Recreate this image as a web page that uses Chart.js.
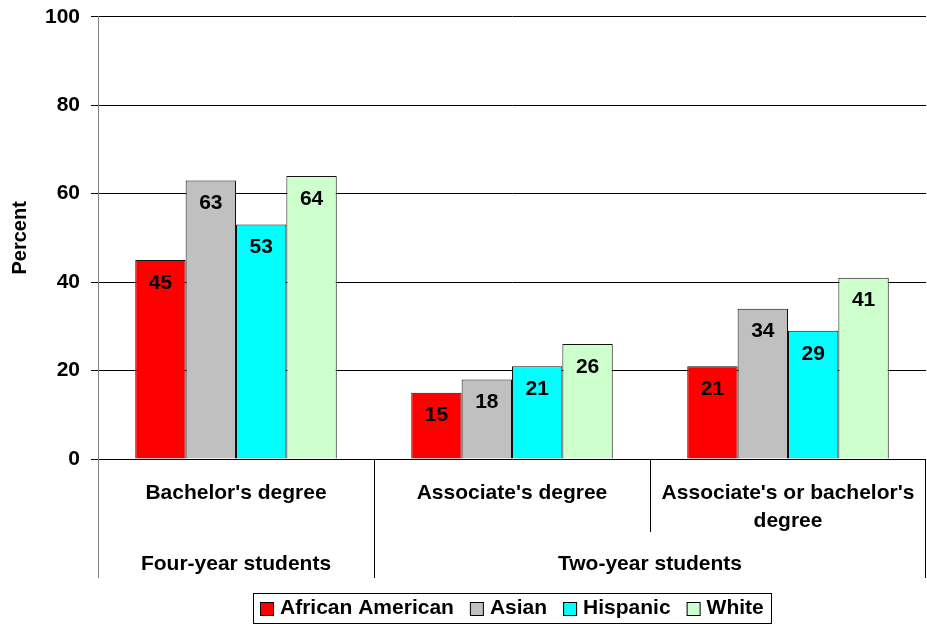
<!DOCTYPE html>
<html>
<head>
<meta charset="utf-8">
<script src="https://cdn.jsdelivr.net/npm/chart.js@4/dist/chart.umd.min.js"></script>
<style>
  html, body { margin: 0; padding: 0; background: #fff; }
  #wrap { width: 927px; height: 624px; position: relative; }
</style>
</head>
<body>
<div id="wrap"><canvas id="gradChart"></canvas></div>
<script>
// categories (each one is split into its drawn lines)
const categories = [["Bachelor's degree"], ["Associate's degree"], ["Associate's or bachelor's", "degree"]];
const groupLabels = ['Four-year students', 'Two-year students'];
const groupFirst = [0, 1];
const groupLast = [0, 2];

const africanAmerican = [45, 15, 21];
const asian = [63, 18, 34];
const hispanic = [53, 21, 29];
const white = [64, 26, 41];

const yTicks = [0, 20, 40, 60, 80, 100];

const FONT = 'Arial, "Liberation Sans", sans-serif';

// value labels inside the top of each bar
const valueLabels = {
    id: 'valueLabels',
    afterDatasetsDraw(chart) {
        const ctx = chart.ctx;
        ctx.save();
        ctx.font = 'bold 21px ' + FONT;
        ctx.fillStyle = '#000';
        ctx.textAlign = 'center';
        ctx.textBaseline = 'middle';
        chart.data.datasets.forEach(function(ds, i) {
            chart.getDatasetMeta(i).data.forEach(function(bar, j) {
                ctx.fillText(String(ds.data[j]), bar.x, bar.y + 23);
            });
        });
        ctx.restore();
    }
};

// two-level category axis, separators and the boxed legend
const axisLabels = {
    id: 'axisLabels',
    afterDraw(chart) {
        const ctx = chart.ctx;
        const x = chart.scales.x;
        const area = chart.chartArea;
        const bottom = area.bottom;
        const edge = function(i) {
            if (i <= 0) return area.left;
            if (i >= categories.length) return area.right;
            return (x.getPixelForValue(i - 1) + x.getPixelForValue(i)) / 2;
        };
        ctx.save();
        ctx.lineWidth = 1;

        // separators
        ctx.strokeStyle = '#808080';
        ctx.beginPath();
        ctx.moveTo(Math.round(area.left) + 0.5, bottom);
        ctx.lineTo(Math.round(area.left) + 0.5, bottom + 119);
        ctx.stroke();
        ctx.strokeStyle = '#000';
        for (let i = 1; i <= categories.length; i++) {
            const isGroupEdge = groupFirst.indexOf(i) >= 0 || i === categories.length;
            const px = Math.round(edge(i)) - (i === categories.length ? 1 : 0) + 0.5;
            ctx.beginPath();
            ctx.moveTo(px, bottom);
            ctx.lineTo(px, bottom + (isGroupEdge ? 119 : 73));
            ctx.stroke();
        }

        // category labels
        ctx.fillStyle = '#000';
        ctx.font = 'bold 21px ' + FONT;
        ctx.textAlign = 'center';
        ctx.textBaseline = 'middle';
        categories.forEach(function(lines, i) {
            const cx = x.getPixelForValue(i);
            lines.forEach(function(t, k) {
                ctx.fillText(t, cx, bottom + 34 + k * 28);
            });
        });

        // group labels
        groupLabels.forEach(function(t, g) {
            const cx = (edge(groupFirst[g]) + edge(groupLast[g] + 1)) / 2;
            ctx.fillText(t, cx, bottom + 105);
        });

        // legend
        const sw = 14, gapText = 6, gapItem = 16, margin = 7;
        ctx.font = 'bold 21px ' + FONT;
        const items = chart.data.datasets.map(function(ds) {
            return { ds: ds, w: sw + gapText + ctx.measureText(ds.label).width };
        });
        let total = margin * 2 + gapItem * (items.length - 1);
        items.forEach(function(it) { total += it.w; });
        const boxL = Math.round((area.left + area.right) / 2 - total / 2);
        const boxT = chart.height - 31;
        ctx.strokeStyle = '#000';
        ctx.strokeRect(boxL + 0.5, boxT + 0.5, Math.round(total), 30);
        const cy = boxT + 15.5;
        let lx = boxL + margin;
        ctx.textAlign = 'left';
        items.forEach(function(it) {
            ctx.fillStyle = it.ds.backgroundColor;
            ctx.fillRect(lx, Math.round(cy - sw / 2), sw, sw);
            ctx.strokeStyle = '#000';
            ctx.strokeRect(lx + 0.5, Math.round(cy - sw / 2) + 0.5, sw - 1, sw - 1);
            ctx.fillStyle = '#000';
            ctx.fillText(it.ds.label, lx + sw + gapText, cy);
            lx += it.w + gapItem;
        });
        ctx.restore();
    }
};

const ctx = document.getElementById('gradChart').getContext('2d');
const gradChart = new Chart(ctx, {
    type: 'bar',
    data: {
        labels: categories,
        datasets: [
            { label: 'African American', data: africanAmerican, backgroundColor: '#FF0000' },
            { label: 'Asian', data: asian, backgroundColor: '#C0C0C0' },
            { label: 'Hispanic', data: hispanic, backgroundColor: '#00FFFF' },
            { label: 'White', data: white, backgroundColor: '#CCFFCC' }
        ].map(function(d) {
            d.borderColor = '#111';
            d.borderWidth = 1;
            d.categoryPercentage = 0.73;
            d.barPercentage = 1.0;
            return d;
        })
    },
    options: {
        responsive: true,
        maintainAspectRatio: false,
        animation: false,
        layout: { padding: { top: 2, right: 1, left: 0, bottom: 46 } },
        scales: {
            x: {
                grid: { display: false },
                border: { display: false },
                ticks: { display: false },
                afterFit: function(scale) { scale.height = 119; }
            },
            y: {
                min: 0,
                max: 100,
                afterBuildTicks: function(scale) {
                    scale.ticks = yTicks.map(function(v) { return { value: v }; });
                },
                grid: { color: '#000', tickLength: 7, tickColor: '#000' },
                border: { color: '#808080' },
                ticks: {
                    color: '#000',
                    padding: 11,
                    font: { family: FONT, size: 21, weight: 'bold', lineHeight: 0.55 }
                },
                title: {
                    display: true,
                    text: 'Percent',
                    color: '#000',
                    padding: { top: 8, bottom: 0 },
                    font: { family: FONT, size: 20, weight: 'bold' }
                },
                afterFit: function(scale) { scale.width = 98; }
            }
        },
        plugins: {
            legend: { display: false },
            tooltip: { enabled: false }
        }
    },
    plugins: [valueLabels, axisLabels]
});
</script>
</body>
</html>
